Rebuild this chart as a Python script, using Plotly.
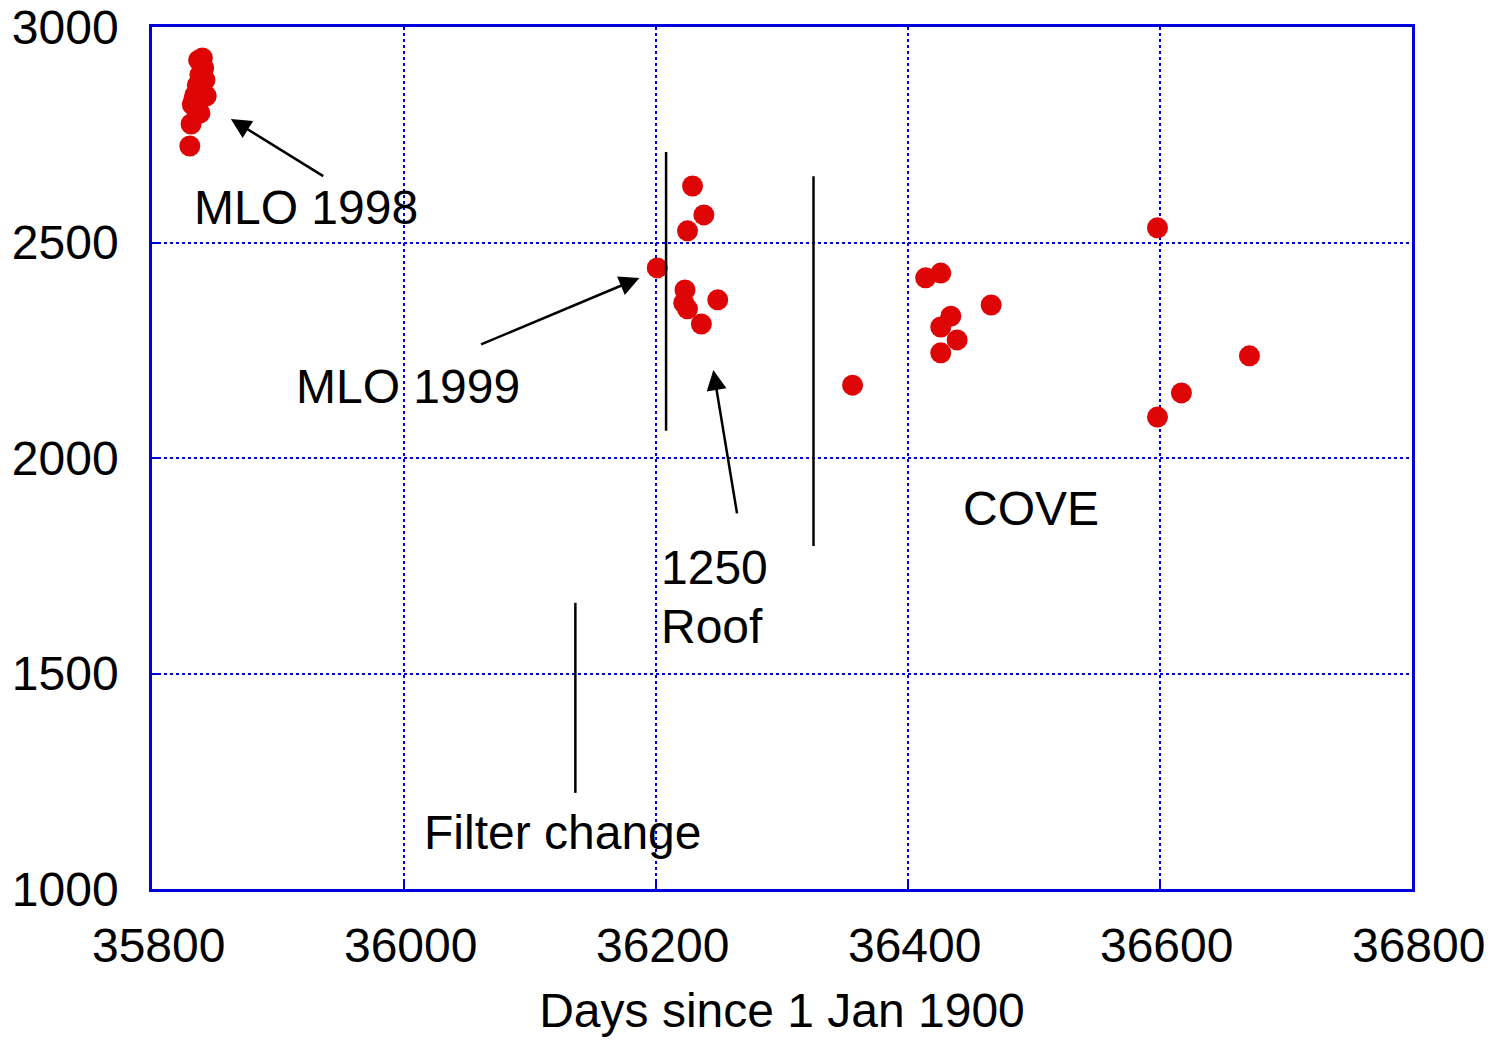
import plotly.graph_objects as go

# Data (days since 1 Jan 1900, calibration value)
mlo98_x = [35830, 35831, 35832, 35834, 35836, 35838, 35837, 35840, 35841, 35842, 35841, 35839, 35835, 35833, 35843, 35838]
mlo98_y = [2724, 2775, 2820, 2842, 2865, 2889, 2923, 2928, 2905, 2877, 2838, 2850, 2810, 2830, 2840, 2800]
mlo99_x = [36201, 36229, 36238, 36225, 36223, 36222, 36225, 36249, 36236]
mlo99_y = [2441, 2631, 2564, 2527, 2390, 2360, 2346, 2367, 2311]
cove_x = [36356, 36414, 36426, 36434, 36426, 36439, 36426, 36466, 36598, 36598, 36617, 36671]
cove_y = [2169, 2418, 2429, 2329, 2304, 2274, 2244, 2355, 2534, 2095, 2151, 2237]

x_ticks = [35800, 36000, 36200, 36400, 36600, 36800]
y_ticks = [1000, 1500, 2000, 2500, 3000]

# Event markers (vertical lines): x, y0, y1
events = [(36208, 2063, 2710), (36325, 1796, 2654), (36136, 1223, 1664)]

# Labels: text, x, y
labels = [("MLO 1998", 35831.5, 2582), ("MLO 1999", 35913, 2167), ("1250", 36202.5, 1745),
          ("Roof", 36202.5, 1610), ("COVE", 36442, 1884), ("Filter change", 36014, 1132)]

# Arrows: head x, head y, tail x, tail y
arrows = [(35862.6, 2786.5, 35937.1, 2652), (36186.8, 2417.6, 36060, 2262.2),
          (36245.5, 2204, 36264.5, 1868)]

all_x = mlo98_x + mlo99_x + cove_x
all_y = mlo98_y + mlo99_y + cove_y

FONT = "Liberation Sans, Arial, sans-serif"
BLUE = "#0000dd"
FS = 48

fig = go.Figure()
fig.add_trace(go.Scatter(x=all_x, y=all_y, mode="markers",
                         marker=dict(color="#dd0505", size=21, symbol="circle", line=dict(width=0)),
                         showlegend=False, hoverinfo="x+y"))

for x, y0, y1 in events:
    fig.add_shape(type="line", x0=x, x1=x, y0=y0, y1=y1, xref="x", yref="y",
                  line=dict(color="black", width=2.5))

for t, x, y in labels:
    fig.add_annotation(x=x, y=y, xref="x", yref="y", text=t, showarrow=False,
                       xanchor="left", yanchor="middle",
                       font=dict(family=FONT, size=FS, color="black"))

for hx, hy, tx, ty in arrows:
    fig.add_annotation(x=hx, y=hy, ax=tx, ay=ty, xref="x", yref="y", axref="x", ayref="y",
                       text="", showarrow=True, arrowhead=2, arrowsize=1.6, arrowwidth=2.5,
                       arrowcolor="black")

axis_common = dict(showline=True, mirror=True, linecolor=BLUE, linewidth=2.5,
                   showgrid=True, gridcolor=BLUE, gridwidth=2, griddash="dot",
                   ticks="inside", ticklen=8, tickcolor=BLUE, tickwidth=2,
                   zeroline=False, automargin=False,
                   tickfont=dict(family=FONT, size=FS, color="black"))

fig.update_xaxes(range=[35800, 36800], tickvals=x_ticks,
                 ticktext=["\u00a0" + str(v) for v in x_ticks],
                 ticklabelstandoff=13,
                 title=dict(text="Days since 1 Jan 1900", font=dict(family=FONT, size=FS, color="black"),
                            standoff=23),
                 **axis_common)
fig.update_yaxes(range=[1000, 3000], tickvals=y_ticks, ticktext=[str(v) for v in y_ticks],
                 ticklabelstandoff=21, **axis_common)

fig.update_layout(width=1507, height=1041, plot_bgcolor="white", paper_bgcolor="white",
                  margin=dict(l=152, r=95, t=27, b=152), showlegend=False,
                  font=dict(family=FONT))

fig.write_html("out.html")
